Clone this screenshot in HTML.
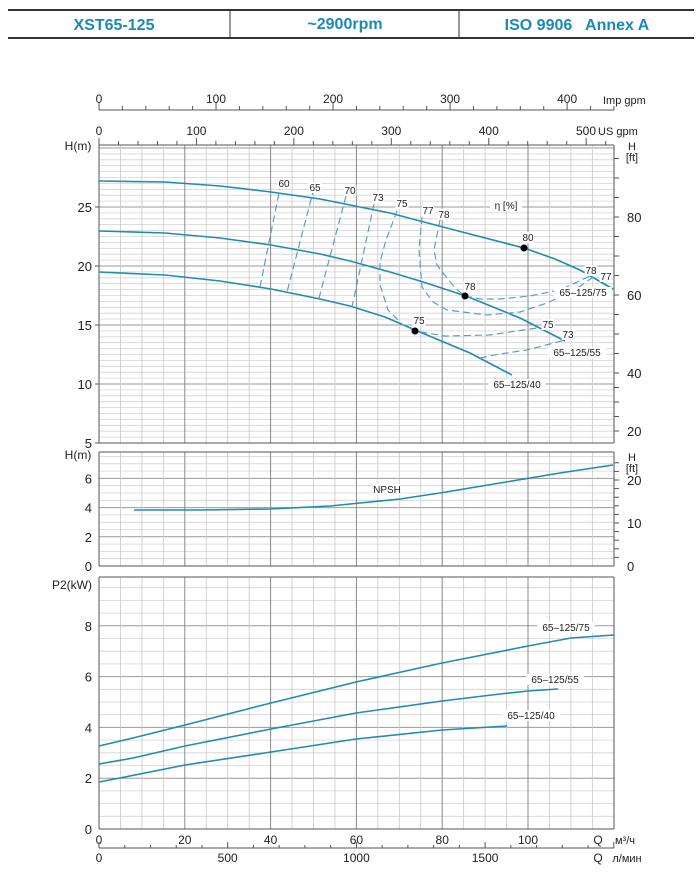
<!DOCTYPE html>
<html><head><meta charset="utf-8"><style>
body{margin:0;background:#fff;}
svg{display:block;font-family:"Liberation Sans",sans-serif;}
</style></head><body>
<svg id="s" width="700" height="872" viewBox="0 0 700 872" xmlns="http://www.w3.org/2000/svg">
<line x1="8" y1="10" x2="694" y2="10" stroke="#333" stroke-width="2"/>
<line x1="8" y1="38" x2="694" y2="38" stroke="#333" stroke-width="2"/>
<line x1="230" y1="10" x2="230" y2="38" stroke="#333"/>
<line x1="459" y1="10" x2="459" y2="38" stroke="#333"/>
<g fill="#1a8ab5" font-weight="bold" font-size="16" text-anchor="middle">
<text x="114" y="30">XST65-125</text>
<text x="345" y="29">~2900rpm</text>
<text x="577" y="30">ISO 9906 &#160; Annex A</text>
</g>
<g id="g"></g>
</svg>
<script>
var g=document.getElementById('g'),h='';
function X(q){return 99+4.29*q;}
var R=614;
function L(a,b,c,d,s,w,da){h+='<line x1="'+a+'" y1="'+b+'" x2="'+c+'" y2="'+d+'" stroke="'+s+'" stroke-width="'+(w||1)+'"'+(da?' stroke-dasharray="'+da+'"':'')+'/>';}
function T(x,y,t,sz,an,col){h+='<text x="'+x+'" y="'+y+'" font-size="'+(sz||12)+'" text-anchor="'+(an||'middle')+'" fill="'+(col||'#222')+'">'+t+'</text>';}
function panel(top,bot,ys){
 for(var i=0;i<ys.length;i++){L(99,ys[i][0],R,ys[i][0],ys[i][1]?'#999':'#d4d4d4',ys[i][1]?1:0.8);}
 for(var q=5;q<120;q+=5){L(X(q),top,X(q),bot,q%20==0?'#888':'#c8c8c8',q%20==0?1:0.8);}
 L(99,top,R,top,'#555');L(99,bot,R,bot,'#555');L(99,top,99,bot,'#555');L(R,top,R,bot,'#555');
}
function Y1(H){return 502-11.8*H;}
var ys=[];for(var v=5.5;v<30.3;v+=0.5){ys.push([Y1(v),v%5==0]);}
panel(145,443,ys);
[5,10,15,20,25].forEach(function(v){T(92,Y1(v)+5,v,13,'end');L(95,Y1(v),99,Y1(v),'#555');});
T(78,150,'H(m)',12,'middle');
function FY(f){return f>=40?373-(f-40)*3.9:431-(f-20)*2.9;}
for(var f=20;f<=95;f+=5){var yy=FY(f);if(yy>145&&yy<443)L(R,yy,R+5,yy,'#555');}
[20,40,60,80].forEach(function(f){T(627,FY(f)+5,f,13,'start');});
T(632,150,'H',11);T(632,161,'[ft]',11);
L(99,110,R,110,'#555');
for(var i=0;i<=440;i+=20){var x=99+i*0.2728*4.29;if(x<=R)L(x,110,x,i%100==0?103:106,'#555');}
[0,100,200,300,400].forEach(function(i){T(99+i*0.2728*4.29,103,i,12);});
T(603,104,'Imp gpm',11,'start');
for(var i=0;i<=520;i+=20){var x=99+i*0.22712*4.29;if(x<=R)L(x,145,x,i%100==0?138:141,'#555');}
[0,100,200,300,400].forEach(function(i){T(99+i*0.22712*4.29,135,i,12);});
T(586,135,'500',12);T(598,135,'US gpm',11,'start');
function Y2(H){return 566-14.6*H;}
ys=[];for(var v=0.5;v<7.8;v+=0.5){ys.push([Y2(v),v%2==0]);}
panel(452,566,ys);
[0,2,4,6].forEach(function(v){T(92,Y2(v)+5,v,13,'end');});
T(78,459,'H(m)',12);
function FY2(f){return 566-f*4.3;}
for(var f=2;f<=24;f+=2){L(R,FY2(f),R+5,FY2(f),'#555');}
[0,10,20].forEach(function(f){T(627,FY2(f)+5,f,13,'start');});
T(632,461,'H',11);T(632,472,'[ft]',11);
function Y3(P){return 829-25.4*P;}
ys=[];for(var v=0.5;v<9.9;v+=0.5){ys.push([Y3(v),v%2==0]);}
panel(577,829,ys);
[0,2,4,6,8].forEach(function(v){T(92,Y3(v)+5,v,13,'end');});
T(72,589,'P2(kW)',12);
[0,20,40,60,80,100].forEach(function(q){T(X(q),844,q,12);});
T(598,844,'Q',12);T(625,844,'м³/ч',11);
L(99,848,R,848,'#555');
for(var l=0;l<=2000;l+=100){var x=99+l*0.06*4.29;if(x<=R)L(x,848,x,l%500==0?842:845,'#555');}
[0,500,1000,1500].forEach(function(l){T(99+l*0.06*4.29,862,l,12);});
T(598,862,'Q',12);T(627,862,'л/мин',11);
function P(pts,col,w,da){var s='';for(var i=0;i<pts.length;i++)s+=pts[i][0]+','+pts[i][1]+' ';h+='<polyline points="'+s+'" fill="none" stroke="'+col+'" stroke-width="'+(w||1.6)+'"'+(da?' stroke-dasharray="'+da+'"':'')+' stroke-linejoin="round"/>';}
var C='#1f8cb0',D='#5a9fc6';
P([[99,181],[165,182],[220,186],[271,192],[320,199],[350,205],[390,213],[420,221],[466,233],[524,248],[555,259],[580,270],[613,289]],C);
P([[99,231],[165,233],[220,238],[271,245],[320,254],[350,261],[390,272],[420,281],[466,296],[520,318],[565,341]],C);
P([[99,272],[165,275],[220,281],[271,289],[320,299],[350,306],[385,317],[415,330],[470,353],[512,375]],C);
P([[281,183],[260,287]],D,1.2,'7,4');
P([[314,188],[287,292]],D,1.2,'7,4');
P([[346,196],[319,298]],D,1.2,'7,4');
P([[374,204],[352,307]],D,1.2,'7,4');
P([[397,211],[386,240],[380,262],[380,285],[388,310],[403,325],[415,331],[445,336],[490,335],[537,328]],D,1.2,'7,4');
P([[422,217],[419,250],[422,287],[433,302],[447,310],[487,315],[520,312],[547,303],[575,290],[593,277]],D,1.2,'7,4');
P([[440,220],[434,250],[437,265],[443,273],[455,288],[465,296],[480,299],[500,299],[530,296],[560,290],[590,276]],D,1.2,'7,4');
P([[480,358],[500,354],[527,350],[550,344],[565,340]],D,1.2,'7,4');
[[524,248],[465,296],[415,331]].forEach(function(p){h+='<circle cx="'+p[0]+'" cy="'+p[1]+'" r="3.5" fill="#000"/>';});
var lb=[[284,187,'60'],[315,191,'65'],[350,194,'70'],[378,201,'73'],[402,207,'75'],[428,214,'77'],[444,218,'78'],[528,241,'80'],[470,290,'78'],[419,324,'75'],[548,328,'75'],[568,338,'73'],[591,274,'78'],[606,280,'77'],[506,209,'η [%]'],[583,296,'65–125/75'],[577,356,'65–125/55'],[517,388,'65–125/40'],[387,493,'NPSH'],[566,631,'65–125/75'],[555,683,'65–125/55'],[531,719,'65–125/40']];
lb.forEach(function(a){h+='<rect x="'+(a[0]-a[2].length*3.2)+'" y="'+(a[1]-9)+'" width="'+(a[2].length*6.4)+'" height="11" fill="#fff"/>';T(a[0],a[1],a[2],10);});
P([[134,510],[200,510],[270,509],[330,506],[360,503],[400,499],[440,493],[500,483],[560,473],[613,465]],C);
P([[99,746],[133,738],[185,725],[271,703],[356,682],[442,663],[528,646],[571,638],[614,635]],C);
P([[99,764],[133,758],[185,746],[271,729],[356,713],[442,701],[500,694],[528,691],[558,689]],C);
P([[99,782],[125,777],[185,765],[271,752],[356,739],[442,730],[507,726]],C);
g.innerHTML=h;
</script>
</body></html>
